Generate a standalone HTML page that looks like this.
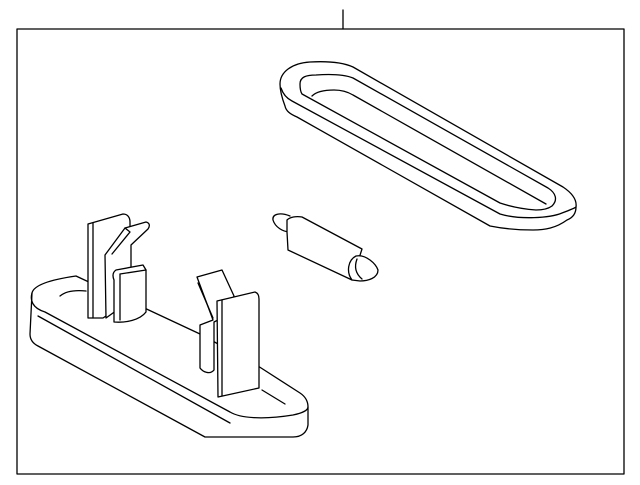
<!DOCTYPE html>
<html><head><style>html,body{margin:0;padding:0;background:#fff}svg{display:block}</style></head>
<body>
<svg width="640" height="485" viewBox="0 0 640 485" xmlns="http://www.w3.org/2000/svg" fill="#fff" stroke="#000" stroke-width="1.3" stroke-linejoin="round" stroke-linecap="round">
<line x1="343" y1="10" x2="343" y2="29"/>
<rect x="17" y="29" width="607" height="445" fill="none"/>
<!-- lens -->
<path d="M280,84 C280,72 292,63 310,62 C328,61 342,62 353,67 L563,187 C572,193 577,200 576,207 C576,214 572,218 567,220 C556,228 545,230 533,230 C518,230 505,229 490,226 L297,117 C290,114 286,111 285,106 C282,98 280,90 280,84 Z"/>
<path d="M281,88 C283,94 286,98 292,101 L500,214 C520,220 550,218 562,213 C570,210 575,208 576,207" fill="none"/>
<path d="M300,84 C300,77 306,75 316,75 C330,74 343,74 353,78 L548,188 C556,193 558,200 552,206 C548,209 543,210 536,210 C522,209 512,207 500,203 L302,94 C300,91 300,87 300,84 Z" fill="none"/>
<path d="M312,96 C316,92 324,90 334,90 C342,90 348,92 353,95 L546,204" fill="none"/>
<!-- bulb -->
<path d="M290,216 C280,212 272,214 273,220 C275,227 283,232 290,232" />
<path d="M287,232 L287,220 C290,217 296,216 302,217 L362,249 L352,280 L288,250 Z"/>
<path d="M352,280 C346,272 348,260 356,256 C366,254 376,264 378,270 C378,278 368,281 360,281 Z"/>
<path d="M357,259 C354,267 356,274 362,279" fill="none"/>
<!-- base -->
<path d="M32,293 C34,284 55,279 76,276 L200,334 L258,366 L300,393 C306,397 308,402 308,407 L308,425 C307,432 302,437 293,437 L205,437 L38,346 C32,343 30,339 30,334 Z"/>
<path d="M32,293 C30,300 32,308 45,312 L230,412 C240,418 262,420 293,415 C303,413 308,410 308,407" fill="none"/>
<path d="M38,316 L230,423" fill="none"/>
<path d="M60,296 C66,291 76,290 86,291" fill="none"/>
<path d="M262,390 L285,404" fill="none"/>
<!-- left clip -->
<path d="M88,224 L123,214 C128,214 130,218 130,222 L130,300 L103,318 L88,318 Z"/>
<path d="M93,223 L93,318" fill="none"/>
<path d="M125,228 L146,222 C150,223 150,226 148,229 L131,245 L131,300 L106,318 L105,255 Z"/>
<path d="M125,228 L130,232 L112,254" fill="none"/>
<path d="M116,270 L143,265 L146,270 L146,312 C140,320 126,323 114,322 L114,280 C112,275 113,272 116,270 Z"/>
<path d="M120,274 L146,270 M120,274 L120,320" fill="none"/>
<!-- right clip -->
<path d="M197,277 L222,270 L234,296 L222,318 L214,322 L214,370 C210,375 203,372 200,368 L200,325 L213,320 Z"/>
<path d="M198,283 L213,318" fill="none"/>
<path d="M217,301 L255,292 C258,293 259,296 259,299 L259,388 L218,397 Z"/>
<path d="M222,300 L222,396" fill="none"/>
</svg>
</body></html>
